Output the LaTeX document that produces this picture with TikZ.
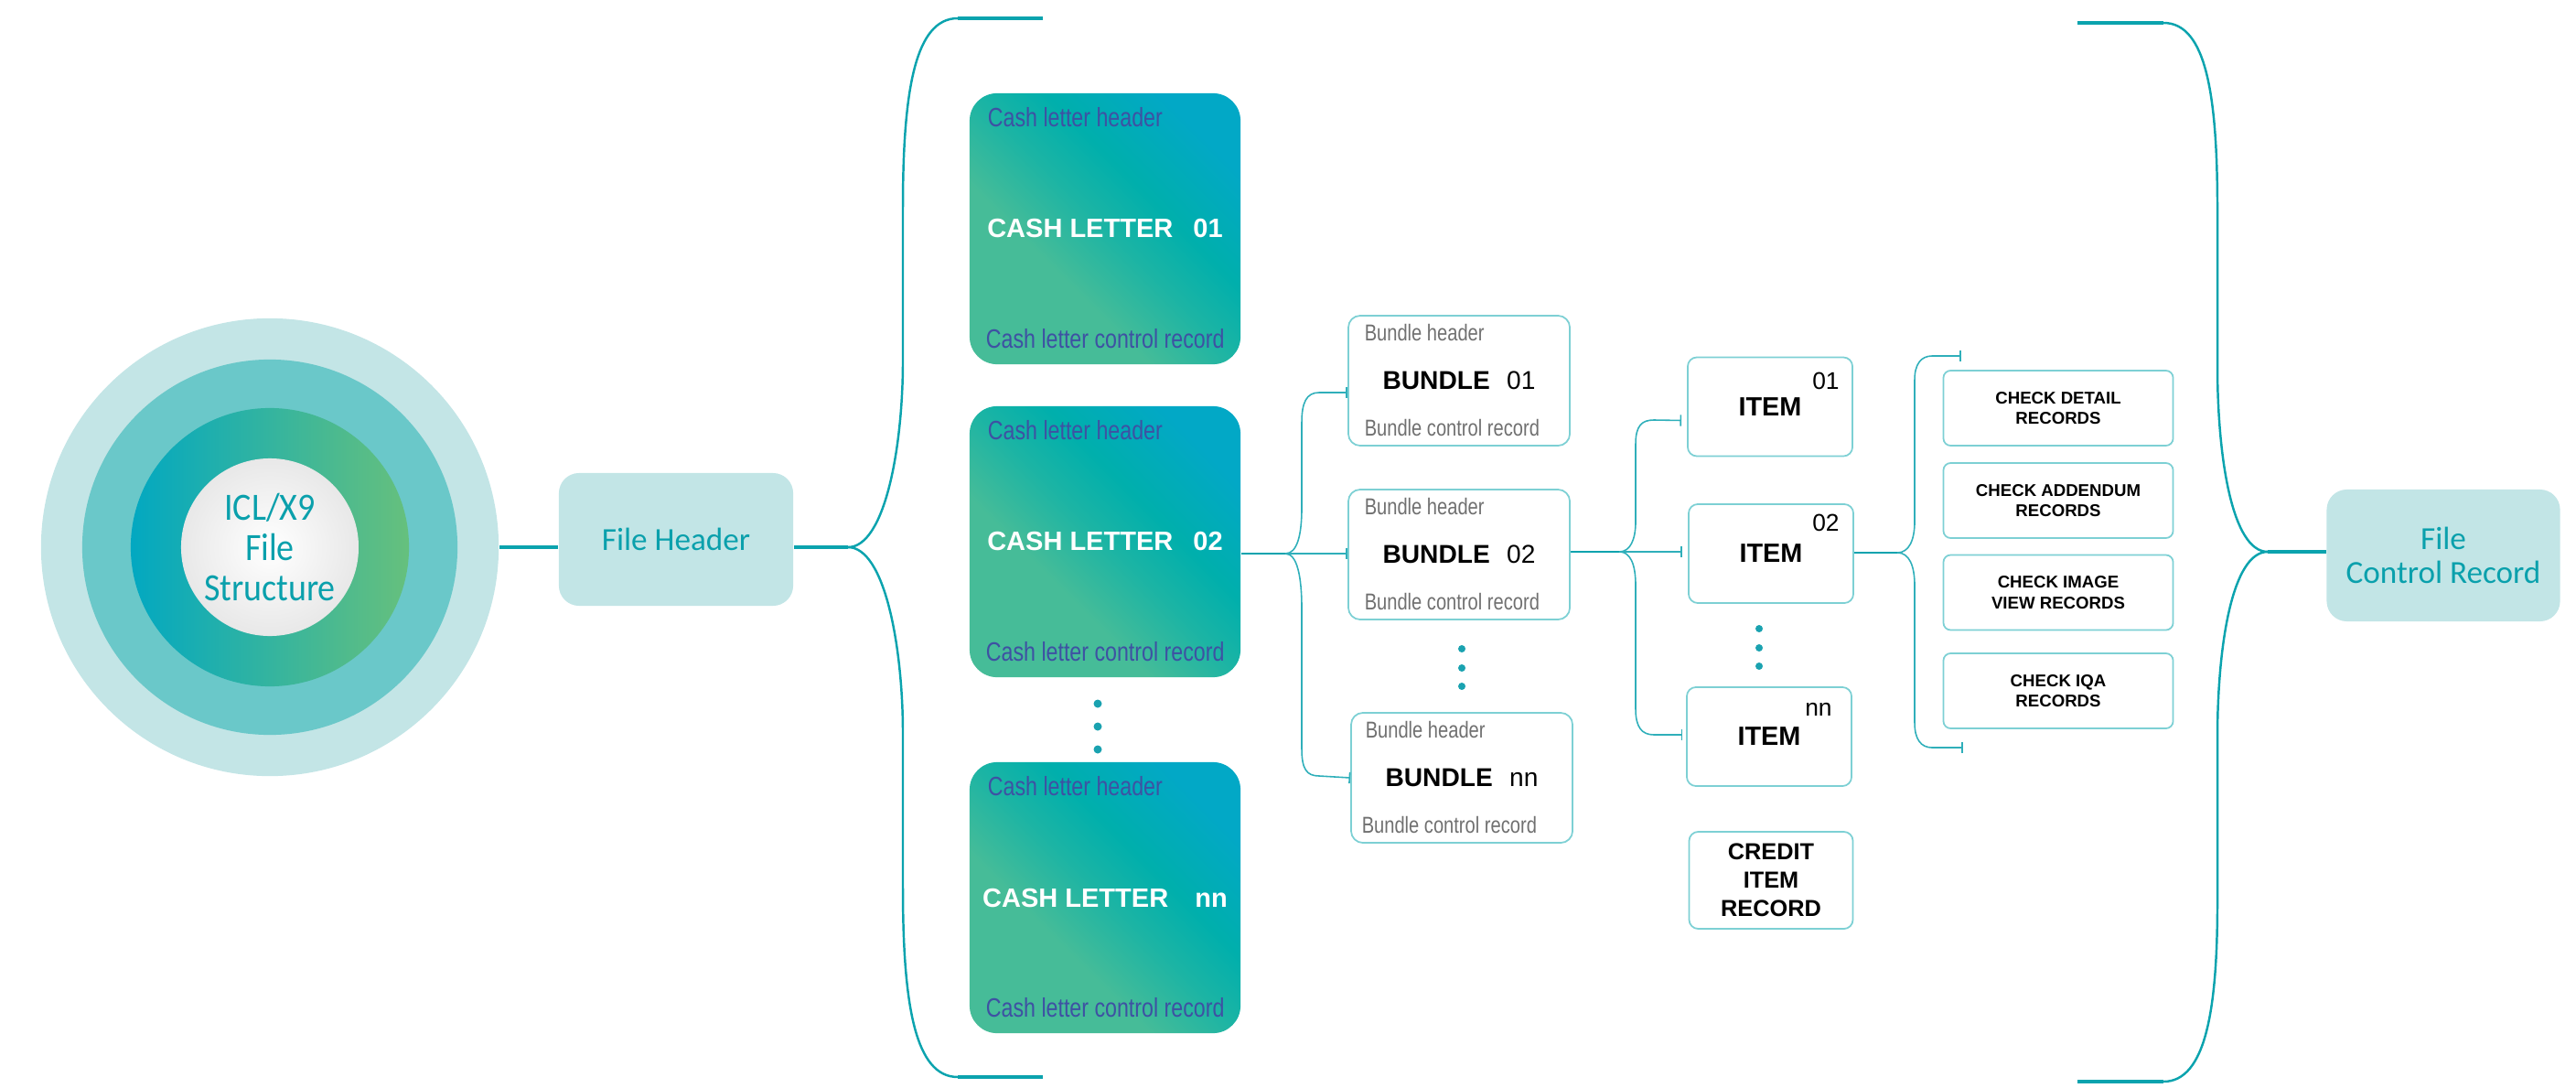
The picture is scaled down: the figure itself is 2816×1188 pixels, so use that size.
\documentclass[tikz,border=0pt]{standalone}
\usepackage{fontspec}
\setmainfont{Liberation Sans}
\newfontfamily\narrowsans[FakeStretch=0.8]{Liberation Sans}
\newfontfamily\calibrisans{Carlito}
\newfontfamily\calibrinarrow[FakeStretch=0.9]{Carlito}
\usetikzlibrary{arrows.meta,calc,positioning}

\definecolor{tealline}{HTML}{0BA3AE}
\definecolor{tealtext}{HTML}{0AA0AC}
\definecolor{twigcol}{HTML}{2FAFBA}
\definecolor{ringlight}{HTML}{C3E5E6}
\definecolor{ringmid}{HTML}{6AC8C9}
\definecolor{discleft}{HTML}{02A8C1}
\definecolor{discright}{HTML}{66C07D}
\definecolor{coregray}{HTML}{E8E8E8}
\definecolor{boxfill}{HTML}{C2E5E6}
\definecolor{clblue}{HTML}{02A8C6}
\definecolor{clmid}{HTML}{00AFAC}
\definecolor{clgreen}{HTML}{46BC98}
\definecolor{clink}{HTML}{3E51A3}
\definecolor{bundlegray}{HTML}{707070}
\definecolor{boxline}{HTML}{7DD0D4}
\definecolor{dotcol}{HTML}{1AA2B0}

\pgfdeclareverticalshading{cashshade}{100bp}{color(0bp)=(clgreen); color(25bp)=(clgreen); color(38bp)=(clgreen); color(50bp)=(clgreen!40!clmid); color(60bp)=(clmid); color(75bp)=(clblue); color(100bp)=(clblue)}

\begin{document}
\begin{tikzpicture}[
	x=0.01cm, y=-0.01cm,
	every node/.style={inner sep=0pt},
	filebox/.style={rectangle, rounded corners=0.22cm, fill=boxfill, text=tealtext, align=center, font=\calibrisans\fontsize{10}{10.5}\selectfont},
	cashbox/.style={rectangle, rounded corners=0.3cm, minimum width=2.96cm, minimum height=2.96cm, shading=cashshade, shading angle=-45, text=white, font=\bfseries\fontsize{8.25}{10}\selectfont},
	cashtext/.style={anchor=west, text=clink, font=\narrowsans\fontsize{8.25}{10}\selectfont},
	bundlebox/.style={rectangle, rounded corners=0.13cm, draw=boxline, line width=0.5pt, minimum width=2.42cm, minimum height=1.42cm, font=\bfseries\fontsize{8}{10}\selectfont},
	bundletext/.style={anchor=west, text=bundlegray, font=\narrowsans\fontsize{7.15}{9}\selectfont},
	itembox/.style={rectangle, rounded corners=0.1cm, draw=boxline, line width=0.5pt, minimum width=1.8cm, minimum height=1.08cm, font=\bfseries\fontsize{8.2}{10}\selectfont},
	itemno/.style={font=\fontsize{7.5}{9}\selectfont},
	recbox/.style={rectangle, rounded corners=0.08cm, draw=boxline, line width=0.5pt, minimum width=2.51cm, minimum height=0.82cm, align=center, font=\bfseries\fontsize{5.3}{6.3}\selectfont},
	creditbox/.style={itembox, minimum width=1.79cm, minimum height=1.06cm, align=center, font=\bfseries\fontsize{7.2}{8.8}\selectfont},
	bigbrace/.style={draw=tealline, line width=0.7pt},
	stub/.style={draw=tealline, line width=1.1pt},
	twig/.style={draw=twigcol, line width=0.45pt},
	twigend/.style={twig, -{Bar[width=3.5pt]}},
]
\useasboundingbox (0,0) rectangle (2816,1188);

% rings
\node[circle, fill=ringlight, minimum size=5cm] (outer) at (295,598) {};
\node[circle, fill=ringmid, minimum size=4.1cm] (midring) at (outer.center) {};
\node[circle, left color=discleft, right color=discright, minimum size=3.04cm] (disc) at (outer.center) {};
\node[circle, inner color=white, outer color=coregray, minimum size=1.94cm, text=tealtext, align=center, font=\calibrinarrow\fontsize{12}{12.4}\selectfont] (core) at (outer.center) {ICL/X9\\File\\Structure};

\node[filebox, minimum width=2.56cm, minimum height=1.45cm] (fh) at (739,589.5) {File Header};
\node[filebox, minimum width=2.55cm, minimum height=1.44cm] (fcr) at (2671,607) {File\\Control Record};
\draw[stub] (outer.east) -- (outer.east -| fh.west);

% cash letters
\node[cashbox] (cl1) at (1208,250) {CASH LETTER\hspace{4pt} 01};
\node[cashbox] (cl2) at (1208,592) {CASH LETTER\hspace{4pt} 02};
\node[cashbox] (cln) at (1208,981) {CASH LETTER\hspace{6pt} nn};
\node[cashtext] (cl1h) at ($(cl1.north west)+(20,27)$) {Cash letter header};
\node[cashtext] (cl1c) at ($(cl1.south west)+(18,-29)$) {Cash letter control record};
\node[cashtext] (cl2h) at ($(cl2.north west)+(20,27)$) {Cash letter header};
\node[cashtext] (cl2c) at ($(cl2.south west)+(18,-29)$) {Cash letter control record};
\node[cashtext] (clnh) at ($(cln.north west)+(20,27)$) {Cash letter header};
\node[cashtext] (clnc) at ($(cln.south west)+(18,-29)$) {Cash letter control record};
\fill[dotcol] (1200,769) circle (0.045cm);
\fill[dotcol] (1200,794) circle (0.045cm);
\fill[dotcol] (1200,819) circle (0.045cm);

% left brace
\coordinate (lb) at (927,598);
\coordinate (lbtop) at (1140,20);
\coordinate (lbbot) at (1140,1177);
\draw[stub] (fh.east |- lb) -- (lb);
\draw[bigbrace] (lb) .. controls (967,598) and (987,490) .. (987,394) -- (987,227) .. controls (987,100) and (1000,20) .. (1047,20);
\draw[stub] (1047,20) -- (lbtop);
\draw[bigbrace] (lb) .. controls (967,598) and (987,706) .. (987,802) -- (987,970) .. controls (987,1097) and (1000,1177) .. (1047,1177);
\draw[stub] (1047,1177) -- (lbbot);

% bundles
\node[bundlebox] (b1) at (1595,416) {BUNDLE\hspace{3pt} {\mdseries 01}};
\node[bundlebox] (b2) at (1595,606) {BUNDLE\hspace{3pt} {\mdseries 02}};
\node[bundlebox] (bn) at (1598,850) {BUNDLE\hspace{3pt} {\mdseries nn}};
\node[bundletext] (b1h) at ($(b1.north west)+(18,19)$) {Bundle header};
\node[bundletext] (b1c) at ($(b1.south west)+(18,-20)$) {Bundle control record};
\node[bundletext] (b2h) at ($(b2.north west)+(18,19)$) {Bundle header};
\node[bundletext] (b2c) at ($(b2.south west)+(18,-20)$) {Bundle control record};
\node[bundletext] (bnh) at ($(bn.north west)+(16,19)$) {Bundle header};
\node[bundletext] (bnc) at ($(bn.south west)+(12,-20)$) {Bundle control record};
\fill[dotcol] (1598,709) circle (0.04cm);
\fill[dotcol] (1598,730) circle (0.04cm);
\fill[dotcol] (1598,750) circle (0.04cm);

\coordinate (bt) at (1405,605);
\draw[stub, line width=0.7pt] (cl2.east |- bt) -- (bt);
\draw[twigend] (bt) .. controls (1418,605) and (1423,585) .. (1423,555) -- (1423,462) .. controls (1423,440) and (1428,429) .. (1442,429) -- ($(b1.west)+(0,13)$);
\draw[twigend, line width=0.7pt] (bt) -- (bt -| b2.west);
\draw[twigend] (bt) .. controls (1418,605) and (1423,630) .. (1423,665) -- (1423,818) .. controls (1423,840) and (1428,848) .. (1442,848) -- (bn.west);

% items
\node[itembox] (i1) at (1935,444.5) {ITEM};
\node[itembox] (i2) at (1936,605) {ITEM};
\node[itembox] (in) at (1934,805) {ITEM};
\node[itemno] (i1n) at ($(i1.north east)+(-30,27)$) {01};
\node[itemno] (i2n) at ($(i2.north east)+(-31,21)$) {02};
\node[itemno] (inn) at ($(in.north east)+(-37,25)$) {nn};
\node[creditbox] (cr) at (1936,962) {CREDIT\\ITEM\\RECORD};
\fill[dotcol] (1923,687) circle (0.04cm);
\fill[dotcol] (1923,708) circle (0.04cm);
\fill[dotcol] (1923,728) circle (0.04cm);

\coordinate (it) at (1770,603);
\draw[stub, line width=0.7pt] (b2.east |- it) -- (it);
\draw[twigend] (it) .. controls (1782,603) and (1788,590) .. (1788,570) -- (1788,485) .. controls (1788,465) and (1795,459) .. (1808,459) -- ($(i1.west)+(-6,15)$);
\draw[twigend, line width=0.7pt] (it) -- ($(it -| i2.west)+(-6,0)$);
\draw[twigend] (it) .. controls (1782,603) and (1788,616) .. (1788,640) -- (1788,775) .. controls (1788,795) and (1795,803) .. (1808,803) -- ($(in.west)+(-4,-2)$);

% check records
\node[recbox] (rd) at (2250,446) {CHECK DETAIL\\RECORDS};
\node[recbox] (ra) at (2250,547) {CHECK ADDENDUM\\RECORDS};
\node[recbox] (ri) at (2250,647.5) {CHECK IMAGE\\VIEW RECORDS};
\node[recbox] (rq) at (2250,755) {CHECK IQA\\RECORDS};

\coordinate (ct) at (2074,604);
\coordinate (ctop) at (2144,389);
\coordinate (cbot) at (2146,817);
\draw[stub, line width=0.7pt] (i2.east |- ct) -- (ct);
\draw[twigend] (ct) .. controls (2087,604) and (2093,590) .. (2093,570) -- (2093,415) .. controls (2093,398) and (2100,389) .. (2112,389) -- (ctop);
\draw[twigend] (ct) .. controls (2087,604) and (2093,618) .. (2093,640) -- (2093,790) .. controls (2093,808) and (2100,817) .. (2112,817) -- (cbot);

% right brace
\coordinate (rb) at (2479,603);
\coordinate (rbtop) at (2271,25);
\coordinate (rbbot) at (2271,1182);
\draw[stub] (rb) -- (rb -| fcr.west);
\draw[bigbrace] (rb) .. controls (2440,603) and (2424,500) .. (2424,400) -- (2424,230) .. controls (2424,105) and (2412,25) .. (2365,25);
\draw[stub] (2365,25) -- (rbtop);
\draw[bigbrace] (rb) .. controls (2440,603) and (2424,706) .. (2424,806) -- (2424,985) .. controls (2424,1100) and (2412,1182) .. (2365,1182);
\draw[stub] (2365,1182) -- (rbbot);
\end{tikzpicture}
\end{document}
